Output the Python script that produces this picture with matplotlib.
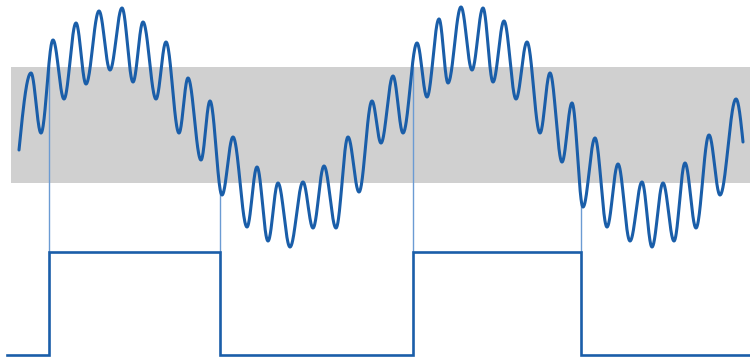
import numpy as np
import matplotlib
matplotlib.use("Agg")
import matplotlib.pyplot as plt

# ---- data (x = time, y = level; pixel-like units, y downwards) ----
# start point, successive extrema (peak/trough alternating), end point of the input signal
sig_x = [19, 31, 41, 53, 64, 76, 86, 99, 110, 122, 133, 143, 156, 166, 179, 188,
         201, 210, 222, 233, 247, 257, 268, 278, 290, 303, 313, 324, 336, 348, 359,
         372, 381, 393, 403, 417, 427, 439, 448, 461, 472, 483, 493, 504, 516, 527,
         540, 550, 562, 572, 583, 595, 607, 618, 630, 642, 652, 663, 674, 685, 696,
         709, 720, 736, 743]
sig_y = [150, 73, 133, 40, 99, 23, 84, 11, 70, 8, 82, 22, 99, 42, 133, 78,
         160, 101, 195, 137, 227, 167, 241, 183, 247, 182, 228, 166, 228, 137, 192,
         101, 143, 76, 133, 43, 97, 19, 83, 7, 70, 8, 82, 21, 99, 42,
         133, 73, 162, 103, 207, 138, 227, 164, 241, 182, 247, 183, 241, 163, 228,
         135, 195, 99, 142]

# hysteresis band (upper / lower threshold) and its horizontal extent
band_top = 67
band_bottom = 183
band_x = [11, 750]

# switching instants, where each connector starts, and output levels
switch_x = [49, 220, 413, 581]
switch_dir = ["up", "down", "up", "down"]
connector_top = [67, 192, 67, 200]
out_low = 355
out_high = 252
out_x_range = [7, 750]

# ---- styles ----
C_SIG = "#1a5ea9"
C_THIN = "#6b9bd3"
C_BAND = "#d0d0d0"

fig = plt.figure(figsize=(7.5, 3.62), dpi=100)
ax = fig.add_axes([0, 0, 1, 1])
ax.set_xlim(0, 750)
ax.set_ylim(362, 0)
ax.axis("off")

# band
ax.axhspan(band_top, band_bottom, xmin=band_x[0] / 750, xmax=band_x[1] / 750,
           color=C_BAND, zorder=0, lw=0)

# smooth rendering of the signal through the read points
xs, ys = [], []
n = len(sig_x)
for i in range(n - 1):
    x0, x1 = sig_x[i], sig_x[i + 1]
    y0, y1 = sig_y[i], sig_y[i + 1]
    t = np.linspace(0, 1, 40)
    if i == 0:
        s = np.sin(np.pi / 2 * t)
    elif i == n - 2:
        s = 1 - np.cos(np.pi / 2 * t)
    else:
        s = (1 - np.cos(np.pi * t)) / 2
    xs.extend(x0 + (x1 - x0) * t)
    ys.extend(y0 + (y1 - y0) * s)
ax.plot(xs, ys, color=C_SIG, lw=2.2, solid_capstyle="round", zorder=3)

# thin vertical connectors from the signal down to the output
for x, ytop in zip(switch_x, connector_top):
    ax.plot([x, x], [ytop, out_high], color=C_THIN, lw=1.0, zorder=2)

# square-wave output
qx = [out_x_range[0]]
qy = [out_low]
level = out_low
for x, d in zip(switch_x, switch_dir):
    qx += [x, x]
    new = out_high if d == "up" else out_low
    qy += [level, new]
    level = new
qx.append(out_x_range[1])
qy.append(level)
ax.plot(qx, qy, color=C_SIG, lw=1.9, solid_joinstyle="miter", zorder=3)

fig.savefig("out.png", dpi=100)
